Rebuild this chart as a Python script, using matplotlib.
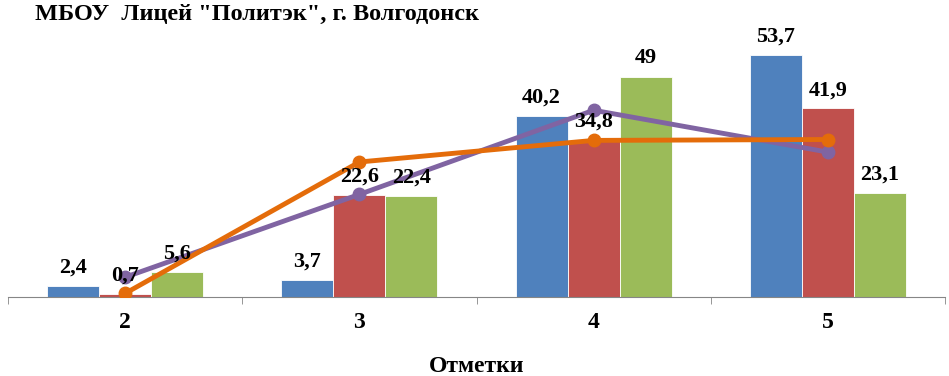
import matplotlib.pyplot as plt
import numpy as np

plt.rcParams['font.family'] = ['Liberation Serif', 'DejaVu Serif']

categories = ['2', '3', '4', '5']
school_a = [2.4, 3.7, 40.2, 53.7]
school_b = [0.7, 22.6, 34.8, 41.9]
school_c = [5.6, 22.4, 49, 23.1]
line_purple = [4.4, 22.8, 41.5, 32.2]
line_orange = [0.8, 30.0, 34.8, 35.0]

bar_colors = ['#4F81BD', '#C0504D', '#9BBB59']


def fmt(v):
    return ('%g' % v).replace('.', ',')


fig = plt.figure(figsize=(9.49, 3.76), dpi=100)
ax = fig.add_axes([8 / 949, 79 / 376, 937 / 949, 270 / 376])

x = np.arange(len(categories))
w = 0.222
for i, (vals, c) in enumerate(zip([school_a, school_b, school_c], bar_colors)):
    pos = x + (i - 1) * w
    ax.bar(pos, vals, width=w, color=c, edgecolor='white', linewidth=0.6, zorder=2)
    for px, v in zip(pos, vals):
        ax.annotate(fmt(v), (px, v), xytext=(0, 6), textcoords='offset points',
                    ha='center', va='bottom', fontsize=16, fontweight='bold', zorder=5)

ax.plot(x, line_purple, color='#8064A2', lw=3.5, marker='o', ms=9, zorder=3)
ax.plot(x, line_orange, color='#E46C0A', lw=3.5, marker='o', ms=9, zorder=4)

ax.set_xlim(-0.5, len(categories) - 0.5)
ax.set_ylim(0, 60)
ax.set_yticks([])
for s in ['top', 'right', 'left']:
    ax.spines[s].set_visible(False)
ax.spines['bottom'].set_color('#868686')
ax.set_xticks(np.arange(len(categories) + 1) - 0.5, minor=True)
ax.set_xticks(x)
ax.set_xticklabels(categories, fontsize=17, fontweight='bold')
ax.tick_params(axis='x', which='major', length=0, pad=11)
ax.tick_params(axis='x', which='minor', length=5, color='#868686')
ax.set_xlabel('Отметки', fontsize=17, fontweight='bold', labelpad=16)

fig.text(35 / 949, 1 - 14 / 376, 'МБОУ  Лицей "Политэк", г. Волгодонск',
         fontsize=17.5, fontweight='bold', ha='left', va='center')

fig.savefig('out.png', dpi=100)
